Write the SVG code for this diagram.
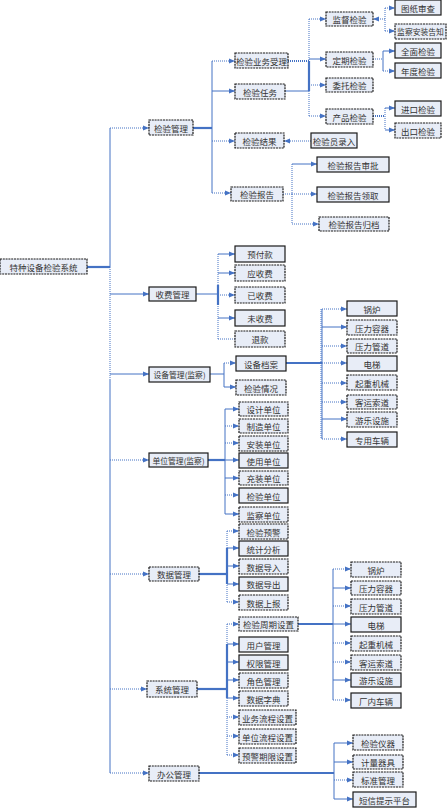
<svg xmlns="http://www.w3.org/2000/svg" width="448" height="808" viewBox="0 0 448 808">
<style>
.b rect{fill:#e8edf7;stroke:#1a1a1a;stroke-width:1.2}
.d rect{stroke-dasharray:2 0.8}
.b text{font-family:"Noto Sans CJK SC","Liberation Serif",serif;font-size:8.5px;fill:#333;text-anchor:middle;dominant-baseline:central}
.b text.s{font-size:7.8px}
#conn path{fill:none;stroke:#4472c4;stroke-width:1}
#conn path.t{stroke-width:2.2}
#conn path.o{stroke-dasharray:1 1}
#conn path.a{marker-end:url(#ar)}
</style>
<defs>
<marker id="ar" markerUnits="userSpaceOnUse" markerWidth="6" markerHeight="6" refX="6" refY="3" orient="auto">
<path d="M0,0.5 L6,3 L0,5.5 z" fill="#4472c4"/>
</marker>
</defs>
<rect width="448" height="808" fill="#fff"/>
<g id="conn">
<path class="t" d="M87,267 H110"/>
<path d="M110,128 V267"/>
<path class="o" d="M110,267 V380"/>
<path d="M110,380 V773"/>
<path class="o a" d="M110,128 H149"/>
<path class="a" d="M110,294 H149"/>
<path class="a" d="M110,374 H149"/>
<path class="o a" d="M110,460 H149"/>
<path class="o a" d="M110,574 H149"/>
<path class="o a" d="M110,689 H147"/>
<path class="o a" d="M110,773 H149"/>
<path class="t" d="M193,128 H212"/>
<path d="M212,61 V193"/>
<path class="o a" d="M212,61 H235"/>
<path class="a" d="M212,91 H235"/>
<path class="o a" d="M212,141 H235"/>
<path class="o a" d="M212,193 H231"/>
<path class="o t" d="M288,61 H309"/>
<path d="M285,91 H309"/>
<path class="o" d="M309,19 V61"/>
<path class="t" d="M309,61 V91"/>
<path class="o" d="M309,91 V116"/>
<path class="o a" d="M309,19 H326"/>
<path class="a" d="M309,59 H326"/>
<path class="o a" d="M309,85 H326"/>
<path class="o a" d="M309,116 H326"/>
<path class="o a" d="M385,19 H373"/>
<path class="o" d="M385,8 V31"/>
<path class="o a" d="M385,8 H395"/>
<path class="o a" d="M385,31 H395"/>
<path class="o" d="M373,59 H383"/>
<path d="M383,51 V71"/>
<path class="a" d="M383,51 H395"/>
<path class="o a" d="M383,71 H395"/>
<path class="o t" d="M373,116 H385"/>
<path class="o" d="M385,108 V130"/>
<path class="a" d="M385,108 H395"/>
<path class="a" d="M385,130 H395"/>
<path class="o a" d="M311,141 H284"/>
<path class="o" d="M283,194 H292"/>
<path class="o" d="M292,164 V224"/>
<path class="a" d="M292,164 H317"/>
<path class="o a" d="M292,194 H317"/>
<path class="o a" d="M292,224 H319"/>
<path d="M196,294 H218"/>
<path class="o" d="M218,254 V339"/>
<path class="t" d="M218,285 V305"/>
<path class="a" d="M218,254 H235"/>
<path class="a" d="M218,273 H235"/>
<path class="o a" d="M218,295 H235"/>
<path class="a" d="M218,318 H235"/>
<path class="o" d="M218,339 H235"/>
<path d="M210,374 H224"/>
<path d="M224,363 V387"/>
<path class="o a" d="M224,363 H236"/>
<path class="a" d="M224,387 H236"/>
<path class="t" d="M286,363 H322"/>
<path d="M322,309 V439"/>
<path class="o" d="M321,309 V439"/>
<path class="o a" d="M322,309 H347"/>
<path class="a" d="M322,327 H347"/>
<path class="o a" d="M322,346 H347"/>
<path class="o a" d="M322,363 H347"/>
<path class="o a" d="M322,383 H347"/>
<path class="o a" d="M322,402 H347"/>
<path class="a" d="M322,419 H347"/>
<path class="o a" d="M322,439 H347"/>
<path class="t" d="M208,460 H225"/>
<path d="M225,409 V514"/>
<path class="a" d="M225,409 H239"/>
<path class="o a" d="M225,426 H239"/>
<path class="o a" d="M225,443 H239"/>
<path class="a" d="M225,460 H239"/>
<path class="a" d="M225,478 H239"/>
<path class="o a" d="M225,495 H239"/>
<path class="a" d="M225,514 H239"/>
<path class="t" d="M199,574 H227"/>
<path class="o" d="M227,531 V602"/>
<path class="t" d="M227,548 V584"/>
<path class="o a" d="M227,531 H239"/>
<path class="a" d="M227,548 H239"/>
<path class="a" d="M227,566 H239"/>
<path class="a" d="M227,584 H239"/>
<path class="o a" d="M227,602 H239"/>
<path class="t" d="M197,689 H227"/>
<path class="o" d="M227,624 V755"/>
<path class="t" d="M227,644 V698"/>
<path class="o a" d="M227,624 H239"/>
<path class="a" d="M227,644 H239"/>
<path class="a" d="M227,662 H239"/>
<path class="a" d="M227,680 H239"/>
<path class="a" d="M227,698 H239"/>
<path class="o a" d="M227,717 H239"/>
<path class="o a" d="M227,736 H239"/>
<path class="o a" d="M227,755 H239"/>
<path class="t" d="M298,624 H333"/>
<path d="M333,569 V700"/>
<path class="o a" d="M333,569 H351"/>
<path class="a" d="M333,588 H351"/>
<path class="o a" d="M333,606 H351"/>
<path class="a" d="M333,624 H351"/>
<path class="o a" d="M333,643 H351"/>
<path class="o a" d="M333,662 H351"/>
<path class="a" d="M333,680 H351"/>
<path class="o a" d="M333,700 H351"/>
<path class="t" d="M199,773 H334"/>
<path d="M334,743 V799"/>
<path class="a" d="M334,743 H353"/>
<path class="a" d="M334,762 H353"/>
<path class="o a" d="M334,780 H353"/>
<path class="a" d="M334,799 H353"/>
</g>

<g id="n_root" class="b d"><rect x="0" y="259" width="87" height="15"/><text x="43.5" y="266.5">特种设备检验系统</text></g>

<g id="n_jygl" class="b d"><rect x="149" y="120" width="44" height="15"/><text x="171" y="127.5">检验管理</text></g>
<g id="n_jyywsl" class="b d"><rect x="235" y="53" width="53" height="15"/><text x="261.5" y="60.5">检验业务受理</text></g>
<g id="n_jyrw" class="b d"><rect x="235" y="84" width="50" height="15"/><text x="260" y="91.5">检验任务</text></g>
<g id="n_jyjg" class="b d"><rect x="235" y="133" width="49" height="15"/><text x="259.5" y="140.5">检验结果</text></g>
<g id="n_jyylr" class="b"><rect x="311" y="133" width="46" height="15"/><text x="334" y="140.5">检验员录入</text></g>
<g id="n_jybg" class="b d"><rect x="231" y="187" width="52" height="14"/><text x="257" y="194">检验报告</text></g>
<g id="n_bgsp" class="b"><rect x="317" y="157" width="72" height="15"/><text x="353" y="164.5">检验报告审批</text></g>
<g id="n_bglq" class="b"><rect x="317" y="187" width="72" height="15"/><text x="353" y="194.5">检验报告领取</text></g>
<g id="n_bggd" class="b d"><rect x="319" y="217" width="70" height="14"/><text x="354" y="224">检验报告归档</text></g>
<g id="n_jdjy" class="b d"><rect x="326" y="12" width="47" height="14"/><text x="349.5" y="19">监督检验</text></g>
<g id="n_dqjy" class="b d"><rect x="326" y="52" width="47" height="15"/><text x="349.5" y="59.5">定期检验</text></g>
<g id="n_wtjy" class="b d"><rect x="326" y="78" width="47" height="14"/><text x="349.5" y="85">委托检验</text></g>
<g id="n_cpjy" class="b d"><rect x="326" y="109" width="47" height="15"/><text x="349.5" y="116.5">产品检验</text></g>
<g id="n_tzsc" class="b"><rect x="395" y="0" width="46" height="15"/><text x="418" y="7.5">图纸审查</text></g>
<g id="n_jcaz" class="b d"><rect x="395" y="24" width="51" height="15"/><text class="s" x="420.5" y="31.5">监察安装告知</text></g>
<g id="n_qmjy" class="b"><rect x="395" y="43" width="46" height="15"/><text x="418" y="50.5">全面检验</text></g>
<g id="n_ndjy" class="b"><rect x="395" y="63" width="46" height="15"/><text x="418" y="70.5">年度检验</text></g>
<g id="n_jkjy" class="b"><rect x="395" y="101" width="46" height="15"/><text x="418" y="108.5">进口检验</text></g>
<g id="n_ckjy" class="b d"><rect x="395" y="123" width="46" height="15"/><text x="418" y="130.5">出口检验</text></g>

<g id="n_sfgl" class="b"><rect x="149" y="287" width="47" height="14"/><text x="172.5" y="294">收费管理</text></g>
<g id="n_yfk" class="b"><rect x="235" y="246" width="50" height="16"/><text x="260" y="254">预付款</text></g>
<g id="n_ysf" class="b d"><rect x="235" y="265" width="50" height="16"/><text x="260" y="273">应收费</text></g>
<g id="n_yisf" class="b d"><rect x="235" y="287" width="50" height="16"/><text x="260" y="295">已收费</text></g>
<g id="n_wsf" class="b"><rect x="235" y="310" width="50" height="16"/><text x="260" y="318">未收费</text></g>
<g id="n_tk" class="b d"><rect x="235" y="331" width="50" height="16"/><text x="260" y="339">退款</text></g>

<g id="n_sbgl" class="b"><rect x="149" y="367" width="61" height="15"/><text class="s" x="179.5" y="374.5">设备管理(监察)</text></g>
<g id="n_sbda" class="b"><rect x="236" y="356" width="50" height="15"/><text x="261" y="363.5">设备档案</text></g>
<g id="n_jyqk" class="b d"><rect x="236" y="380" width="50" height="15"/><text x="261" y="387.5">检验情况</text></g>
<g id="n_gl1" class="b"><rect x="347" y="301" width="50" height="15"/><text x="372" y="308.5">锅炉</text></g>
<g id="n_ylrq1" class="b d"><rect x="347" y="320" width="50" height="15"/><text x="372" y="327.5">压力容器</text></g>
<g id="n_ylgd1" class="b d"><rect x="347" y="339" width="50" height="14"/><text x="372" y="346">压力管道</text></g>
<g id="n_dt1" class="b"><rect x="347" y="356" width="50" height="15"/><text x="372" y="363.5">电梯</text></g>
<g id="n_qzjx1" class="b d"><rect x="347" y="375" width="50" height="15"/><text x="372" y="382.5">起重机械</text></g>
<g id="n_kysd1" class="b d"><rect x="347" y="395" width="50" height="14"/><text x="372" y="402">客运索道</text></g>
<g id="n_ylss1" class="b d"><rect x="347" y="412" width="50" height="15"/><text x="372" y="419.5">游乐设施</text></g>
<g id="n_zycl" class="b"><rect x="347" y="432" width="50" height="15"/><text x="372" y="439.5">专用车辆</text></g>

<g id="n_dwgl" class="b"><rect x="149" y="453" width="59" height="14"/><text class="s" x="178.5" y="460">单位管理(监察)</text></g>
<g id="n_sjdw" class="b d"><rect x="239" y="402" width="49" height="14"/><text x="263.5" y="409">设计单位</text></g>
<g id="n_zzdw" class="b d"><rect x="239" y="419" width="49" height="14"/><text x="263.5" y="426">制造单位</text></g>
<g id="n_azdw" class="b d"><rect x="239" y="436" width="49" height="15"/><text x="263.5" y="443.5">安装单位</text></g>
<g id="n_sydw" class="b"><rect x="239" y="453" width="49" height="15"/><text x="263.5" y="460.5">使用单位</text></g>
<g id="n_czdw" class="b d"><rect x="239" y="471" width="49" height="14"/><text x="263.5" y="478">充装单位</text></g>
<g id="n_jydw" class="b"><rect x="239" y="488" width="49" height="15"/><text x="263.5" y="495.5">检验单位</text></g>
<g id="n_jcdw" class="b d"><rect x="239" y="507" width="49" height="15"/><text x="263.5" y="514.5">监察单位</text></g>

<g id="n_sjgl" class="b d"><rect x="149" y="567" width="50" height="14"/><text x="174" y="574">数据管理</text></g>
<g id="n_jyyj" class="b d"><rect x="239" y="524" width="49" height="15"/><text x="263.5" y="531.5">检验预警</text></g>
<g id="n_tjfx" class="b"><rect x="239" y="541" width="49" height="15"/><text x="263.5" y="548.5">统计分析</text></g>
<g id="n_sjdr" class="b d"><rect x="239" y="559" width="49" height="15"/><text x="263.5" y="566.5">数据导入</text></g>
<g id="n_sjdc" class="b"><rect x="239" y="577" width="49" height="14"/><text x="263.5" y="584">数据导出</text></g>
<g id="n_sjsb" class="b d"><rect x="239" y="595" width="49" height="15"/><text x="263.5" y="602.5">数据上报</text></g>

<g id="n_xtgl" class="b d"><rect x="147" y="681" width="50" height="16"/><text x="172" y="689">系统管理</text></g>
<g id="n_jyzq" class="b d"><rect x="239" y="617" width="59" height="14"/><text x="268.5" y="624">检验周期设置</text></g>
<g id="n_yhgl" class="b"><rect x="239" y="637" width="49" height="15"/><text x="263.5" y="644.5">用户管理</text></g>
<g id="n_qxgl" class="b"><rect x="239" y="655" width="49" height="15"/><text x="263.5" y="662.5">权限管理</text></g>
<g id="n_jsgl" class="b d"><rect x="239" y="673" width="49" height="15"/><text x="263.5" y="680.5">角色管理</text></g>
<g id="n_sjzd" class="b d"><rect x="239" y="691" width="49" height="15"/><text x="263.5" y="698.5">数据字典</text></g>
<g id="n_ywlc" class="b d"><rect x="239" y="710" width="57" height="15"/><text x="267.5" y="717.5">业务流程设置</text></g>
<g id="n_dwlc" class="b d"><rect x="239" y="729" width="57" height="15"/><text x="267.5" y="736.5">单位流程设置</text></g>
<g id="n_yjqx" class="b d"><rect x="239" y="748" width="57" height="15"/><text x="267.5" y="755.5">预警期限设置</text></g>
<g id="n_gl2" class="b d"><rect x="351" y="562" width="50" height="15"/><text x="376" y="569.5">锅炉</text></g>
<g id="n_ylrq2" class="b d"><rect x="351" y="581" width="50" height="14"/><text x="376" y="588">压力容器</text></g>
<g id="n_ylgd2" class="b d"><rect x="351" y="599" width="50" height="15"/><text x="376" y="606.5">压力管道</text></g>
<g id="n_dt2" class="b"><rect x="351" y="617" width="50" height="15"/><text x="376" y="624.5">电梯</text></g>
<g id="n_qzjx2" class="b d"><rect x="351" y="636" width="50" height="15"/><text x="376" y="643.5">起重机械</text></g>
<g id="n_kysd2" class="b d"><rect x="351" y="655" width="50" height="15"/><text x="376" y="662.5">客运索道</text></g>
<g id="n_ylss2" class="b"><rect x="351" y="673" width="50" height="14"/><text x="376" y="680">游乐设施</text></g>
<g id="n_cncl" class="b"><rect x="351" y="693" width="50" height="15"/><text x="376" y="700.5">厂内车辆</text></g>

<g id="n_bggl" class="b d"><rect x="149" y="766" width="50" height="15"/><text x="174" y="773.5">办公管理</text></g>
<g id="n_jyyq" class="b d"><rect x="353" y="735" width="50" height="15"/><text x="378" y="742.5">检验仪器</text></g>
<g id="n_jlqj" class="b d"><rect x="353" y="755" width="50" height="14"/><text x="378" y="762">计量器具</text></g>
<g id="n_bzgl" class="b d"><rect x="353" y="772" width="50" height="15"/><text x="378" y="779.5">标准管理</text></g>
<g id="n_dxts" class="b"><rect x="353" y="792" width="63" height="15"/><text x="384.5" y="799.5">短信提示平台</text></g>
</svg>
